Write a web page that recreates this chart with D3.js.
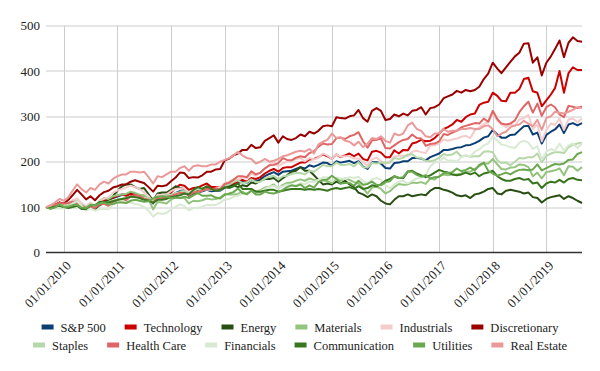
<!DOCTYPE html>
<html>
<head>
<meta charset="utf-8">
<script src="https://cdn.jsdelivr.net/npm/d3@7"></script>
<style>
  body { margin: 0; background: #fff; }
  svg { display: block; }
</style>
</head>
<body>
<div id="chart"></div>
<script>
// monthly points, Sep 2009 .. Sep 2019
const months = d3.timeMonth.range(new Date(2009, 8, 1), new Date(2019, 9, 1));
const yTicks = [0, 100, 200, 300, 400, 500];
const xTickYears = [2010, 2011, 2012, 2013, 2014, 2015, 2016, 2017, 2018, 2019];

const seriesNames = ["S&P 500", "Technology", "Energy", "Materials", "Industrials", "Discretionary",
                     "Staples", "Health Care", "Financials", "Communication", "Utilities", "Real Estate"];
const seriesColors = ["#0b3f73", "#cc0000", "#274e13", "#93c47d", "#f4cccc", "#990000",
                      "#b6d7a8", "#e06666", "#d9ead3", "#38761d", "#6aa84f", "#ea9999"];

const sp500 = [100, 99, 105, 107,
  103, 106, 112, 114, 104, 99, 105, 100, 109, 113, 113, 120,
  123, 127, 127, 131, 129, 126, 124, 117, 108, 120, 119, 120,
  126, 131, 135, 134, 125, 130, 132, 135, 138, 135, 136, 136,
  143, 145, 150, 153, 156, 154, 161, 156, 161, 168, 173, 177,
  171, 178, 179, 180, 184, 188, 185, 192, 189, 193, 198, 197,
  191, 201, 198, 200, 202, 197, 201, 189, 184, 199, 199, 196,
  186, 185, 197, 198, 201, 201, 208, 208, 207, 203, 210, 214,
  218, 226, 226, 228, 231, 232, 236, 237, 241, 246, 253, 256,
  270, 260, 253, 253, 259, 260, 269, 278, 279, 260, 264, 240,
  259, 266, 271, 282, 263, 282, 285, 280, 285];

const technology = [100, 98, 104, 110,
  101, 106, 111, 113, 103, 98, 105, 98, 110, 116, 115, 121,
  125, 128, 125, 129, 127, 123, 123, 116, 113, 126, 123, 122,
  132, 142, 149, 147, 138, 142, 143, 148, 152, 144, 144, 143,
  150, 150, 152, 156, 160, 156, 164, 162, 166, 174, 180, 184,
  178, 186, 188, 188, 193, 198, 198, 205, 206, 210, 216, 212,
  206, 216, 210, 214, 218, 212, 218, 206, 203, 222, 224, 220,
  210, 210, 225, 218, 226, 225, 240, 243, 248, 245, 246, 252,
  262, 272, 276, 282, 292, 288, 298, 304, 306, 325, 330, 332,
  352, 345, 334, 333, 352, 352, 360, 382, 385, 355, 352, 322,
  335, 348, 362, 400, 352, 395, 408, 402, 402];

const energy = [100, 100, 104, 104,
  100, 104, 106, 110, 98, 94, 100, 96, 104, 110, 114, 124,
  136, 146, 150, 150, 144, 140, 142, 128, 114, 130, 132, 132,
  138, 146, 142, 140, 126, 132, 136, 140, 144, 140, 138, 140,
  144, 146, 148, 144, 148, 146, 154, 152, 158, 162, 162, 164,
  156, 164, 170, 178, 180, 188, 180, 180, 170, 160, 150, 152,
  150, 156, 152, 158, 150, 144, 132, 128, 122, 128, 124, 114,
  108, 106, 116, 124, 124, 128, 124, 126, 128, 126, 136, 142,
  142, 138, 136, 132, 126, 124, 126, 120, 128, 130, 134, 140,
  142, 130, 128, 136, 138, 136, 134, 130, 132, 122, 120, 110,
  118, 122, 124, 126, 118, 124, 120, 114, 109];

const materials = [100, 99, 106, 107,
  102, 105, 113, 114, 104, 96, 105, 101, 114, 120, 118, 124,
  126, 128, 129, 134, 131, 127, 126, 117, 95, 111, 110, 108,
  117, 121, 120, 120, 108, 114, 113, 115, 119, 117, 118, 121,
  129, 128, 128, 129, 134, 128, 136, 135, 137, 143, 145, 150,
  141, 149, 153, 154, 158, 161, 158, 163, 160, 158, 159, 157,
  153, 163, 158, 163, 160, 155, 152, 141, 130, 143, 145, 140,
  130, 135, 144, 151, 149, 150, 154, 153, 155, 151, 163, 161,
  168, 172, 170, 172, 172, 174, 178, 178, 184, 190, 196, 196,
  206, 194, 184, 183, 187, 188, 194, 193, 188, 168, 176, 163,
  177, 179, 181, 185, 170, 190, 189, 180, 188];

const industrials = [100, 97, 102, 105,
  103, 108, 115, 119, 109, 102, 110, 101, 113, 118, 122, 132,
  137, 140, 143, 147, 144, 140, 133, 124, 111, 127, 126, 128,
  135, 140, 141, 141, 131, 133, 133, 137, 139, 138, 141, 144,
  153, 156, 161, 160, 166, 163, 174, 169, 176, 185, 193, 198,
  190, 196, 200, 202, 206, 208, 201, 208, 205, 209, 218, 214,
  206, 216, 211, 212, 212, 207, 207, 198, 192, 205, 209, 201,
  196, 201, 211, 213, 213, 212, 222, 224, 221, 219, 235, 236,
  240, 249, 246, 249, 251, 255, 257, 252, 269, 276, 283, 287,
  306, 290, 282, 276, 282, 278, 293, 296, 303, 272, 282, 245,
  270, 284, 281, 295, 270, 293, 295, 287, 295];

const discretionary = [100, 99, 105, 110,
  108, 116, 126, 138, 128, 117, 124, 115, 126, 133, 136, 143,
  146, 150, 150, 156, 159, 156, 153, 144, 134, 147, 146, 148,
  157, 165, 176, 175, 164, 166, 165, 170, 178, 178, 183, 184,
  203, 207, 214, 218, 226, 226, 237, 230, 232, 246, 252, 258,
  242, 256, 250, 248, 252, 260, 256, 266, 262, 268, 278, 280,
  278, 298, 296, 295, 300, 302, 314, 296, 288, 312, 318, 312,
  292, 294, 304, 300, 306, 302, 312, 314, 320, 304, 318, 320,
  326, 340, 344, 348, 356, 352, 358, 355, 358, 365, 382, 394,
  418, 405, 395, 408, 420, 432, 440, 460, 461, 418, 430, 390,
  418, 432, 448, 467, 430, 462, 474, 466, 464];

const staples = [100, 101, 104, 104,
  104, 106, 110, 109, 105, 100, 105, 105, 109, 111, 112, 115,
  116, 118, 117, 123, 125, 123, 121, 120, 116, 122, 123, 127,
  127, 131, 133, 135, 131, 137, 139, 137, 140, 139, 140, 137,
  147, 150, 155, 159, 153, 155, 161, 155, 156, 163, 167, 169,
  161, 168, 169, 173, 175, 175, 172, 180, 178, 185, 193, 190,
  190, 198, 193, 193, 195, 190, 199, 188, 187, 197, 196, 198,
  197, 198, 208, 206, 209, 216, 216, 209, 208, 202, 201, 203,
  209, 217, 214, 216, 222, 211, 214, 211, 212, 212, 222, 223,
  221, 203, 197, 198, 192, 200, 208, 207, 210, 210, 218, 199,
  213, 218, 221, 221, 219, 232, 237, 240, 242];

const healthCare = [100, 97, 105, 109,
  108, 109, 112, 109, 103, 98, 101, 98, 106, 107, 103, 110,
  113, 115, 115, 124, 126, 124, 118, 116, 110, 120, 119, 121,
  124, 128, 131, 131, 126, 132, 134, 136, 140, 139, 141, 139,
  151, 154, 160, 168, 168, 166, 179, 172, 176, 185, 192, 193,
  197, 208, 204, 203, 209, 212, 210, 219, 223, 233, 240, 238,
  239, 252, 253, 250, 256, 259, 265, 245, 231, 247, 248, 251,
  230, 229, 236, 243, 248, 250, 260, 252, 251, 235, 239, 240,
  245, 261, 259, 264, 268, 276, 279, 282, 285, 284, 295, 288,
  312, 294, 284, 282, 284, 291, 309, 322, 332, 308, 328, 301,
  320, 326, 320, 304, 298, 323, 321, 318, 322];

const financials = [100, 96, 97, 97,
  97, 101, 108, 113, 103, 92, 97, 92, 96, 96, 95, 107,
  111, 115, 110, 110, 107, 105, 100, 92, 79, 87, 85, 87,
  95, 101, 106, 102, 93, 98, 98, 101, 105, 104, 105, 110,
  117, 118, 122, 125, 130, 130, 136, 131, 134, 140, 145, 147,
  142, 146, 150, 147, 148, 153, 150, 156, 155, 160, 166, 166,
  157, 165, 163, 162, 166, 164, 167, 157, 153, 161, 164, 160,
  148, 142, 150, 156, 158, 152, 158, 163, 165, 170, 190, 198,
  200, 210, 202, 203, 200, 210, 214, 212, 222, 227, 236, 240,
  256, 246, 238, 236, 232, 230, 242, 246, 242, 228, 234, 205,
  222, 228, 224, 240, 224, 236, 240, 230, 240];

const communication = [100, 98, 101, 103,
  100, 98, 100, 103, 96, 96, 104, 104, 111, 112, 110, 113,
  116, 118, 120, 123, 122, 120, 116, 114, 110, 116, 116, 118,
  122, 124, 126, 130, 128, 138, 144, 140, 146, 140, 136, 138,
  144, 142, 146, 152, 140, 140, 140, 134, 134, 136, 138, 138,
  134, 136, 138, 140, 140, 140, 138, 140, 138, 140, 138, 136,
  140, 142, 140, 142, 144, 140, 146, 140, 142, 148, 146, 150,
  158, 162, 168, 164, 164, 178, 180, 174, 170, 166, 170, 176,
  182, 178, 176, 172, 170, 172, 176, 172, 176, 168, 174, 176,
  180, 168, 162, 158, 158, 162, 164, 160, 162, 152, 154, 142,
  152, 156, 154, 160, 154, 162, 164, 160, 159];

const utilities = [100, 96, 99, 106,
  100, 101, 104, 105, 99, 98, 105, 104, 108, 110, 106, 107,
  110, 110, 109, 114, 116, 114, 112, 113, 119, 123, 124, 123,
  120, 121, 120, 123, 120, 126, 131, 125, 125, 126, 121, 119,
  127, 130, 133, 141, 131, 129, 136, 128, 128, 134, 131, 130,
  133, 138, 144, 148, 146, 150, 142, 148, 143, 155, 160, 161,
  169, 162, 152, 153, 153, 147, 158, 149, 151, 156, 149, 148,
  155, 157, 168, 164, 166, 179, 178, 171, 167, 170, 163, 166,
  167, 175, 175, 177, 185, 179, 182, 187, 181, 193, 198, 180,
  174, 169, 172, 176, 172, 178, 182, 183, 181, 183, 194, 181,
  186, 191, 195, 194, 196, 204, 205, 217, 221];

const realEstate = [100, 104, 110, 118,
  114, 122, 136, 150, 140, 132, 142, 138, 150, 156, 152, 162,
  168, 172, 172, 178, 178, 176, 178, 166, 152, 168, 166, 172,
  178, 178, 186, 190, 180, 190, 192, 190, 190, 194, 194, 200,
  204, 208, 214, 222, 214, 208, 206, 196, 200, 206, 200, 202,
  206, 212, 214, 218, 222, 224, 222, 228, 218, 238, 244, 248,
  262, 252, 254, 246, 244, 236, 244, 232, 240, 252, 250, 256,
  246, 242, 262, 258, 262, 280, 286, 272, 268, 256, 254, 262,
  262, 272, 266, 268, 268, 272, 272, 274, 272, 272, 278, 280,
  272, 256, 262, 266, 276, 280, 282, 290, 284, 278, 292, 270,
  296, 300, 310, 308, 306, 310, 314, 320, 318];

const seriesValues = [sp500, technology, energy, materials, industrials, discretionary,
                      staples, healthCare, financials, communication, utilities, realEstate];

seriesValues.forEach((v, i) => {
  if (v.length !== months.length) throw new Error(seriesNames[i] + " has " + v.length + " values, want " + months.length);
});

const fontFam = "'Liberation Serif', 'DejaVu Serif', serif";
const width = 600, height = 371;
const margin = {top: 25.5, right: 18, bottom: 118.5, left: 46};
const innerW = width - margin.left - margin.right;
const innerH = height - margin.top - margin.bottom;

const svg = d3.select("#chart").append("svg")
  .attr("width", width)
  .attr("height", height)
  .style("font-family", fontFam);

const x = d3.scaleTime()
  .domain([months[0], months[months.length - 1]])
  .range([0, innerW]);

const y = d3.scaleLinear()
  .domain([0, 500])
  .range([innerH, 0]);

const g = svg.append("g")
  .attr("transform", `translate(${margin.left},${margin.top})`);

// gridlines
g.append("g")
  .selectAll("line")
  .data(yTicks.slice(1))
  .enter().append("line")
    .attr("x1", 0).attr("x2", innerW)
    .attr("y1", d => Math.round(y(d)) + 0.5).attr("y2", d => Math.round(y(d)) + 0.5)
    .attr("stroke", "#cccccc");

const xTicks = xTickYears.map(yr => new Date(yr, 0, 1));

g.append("g")
  .selectAll("line")
  .data(xTicks)
  .enter().append("line")
    .attr("x1", d => Math.round(x(d)) + 0.5).attr("x2", d => Math.round(x(d)) + 0.5)
    .attr("y1", 0).attr("y2", innerH)
    .attr("stroke", "#cccccc");

// y labels
const yAxis = d3.axisLeft(y).tickValues(yTicks).tickSize(0).tickPadding(6);
g.append("g")
  .call(yAxis)
  .call(a => a.select(".domain").remove())
  .call(a => a.selectAll("text")
    .style("font-family", fontFam)
    .style("font-size", "13px")
    .attr("fill", "#222"));

// x labels, rotated
const fmt = d3.timeFormat("%m/%d/%Y");
g.append("g")
  .selectAll("text")
  .data(xTicks)
  .enter().append("text")
    .attr("transform", d => `translate(${x(d) + 8},${innerH + 14}) rotate(-45)`)
    .attr("text-anchor", "end")
    .style("font-family", fontFam)
    .style("font-size", "13px")
    .attr("fill", "#222")
    .text(d => fmt(d));

// lines
const line = d3.line()
  .x((d, i) => x(months[i]))
  .y(d => y(d))
  .curve(d3.curveLinear);

g.append("g")
  .selectAll("path")
  .data(seriesValues)
  .enter().append("path")
    .attr("fill", "none")
    .attr("stroke", (d, i) => seriesColors[i])
    .attr("stroke-width", 2)
    .attr("stroke-linejoin", "round")
    .attr("d", line);

// baseline
g.append("line")
  .attr("x1", 0).attr("x2", innerW)
  .attr("y1", innerH).attr("y2", innerH)
  .attr("stroke", "#333")
  .attr("stroke-width", 1.3);

// legend, two centred rows
const rows = [[0, 1, 2, 3, 4, 5], [6, 7, 8, 9, 10, 11]];
const rowY = [328, 346];
const swW = 12, swH = 5, swGap = 7, itemGap = 19;

rows.forEach((row, r) => {
  const lg = svg.append("g").attr("class", "legend");
  let cx = 0;
  row.forEach(i => {
    const item = lg.append("g").attr("transform", `translate(${cx},0)`);
    item.append("rect")
      .attr("x", 0).attr("y", rowY[r] - swH / 2 - 1)
      .attr("width", swW).attr("height", swH)
      .attr("fill", seriesColors[i]);
    const t = item.append("text")
      .attr("x", swW + swGap).attr("y", rowY[r])
      .attr("dy", "0.32em")
      .style("font-family", fontFam)
      .style("font-size", "12.5px")
      .attr("fill", "#222")
      .text(seriesNames[i]);
    cx += swW + swGap + t.node().getComputedTextLength() + itemGap;
  });
  const total = cx - itemGap;
  lg.attr("transform", `translate(${(width - total) / 2},0)`);
});
</script>
</body>
</html>
